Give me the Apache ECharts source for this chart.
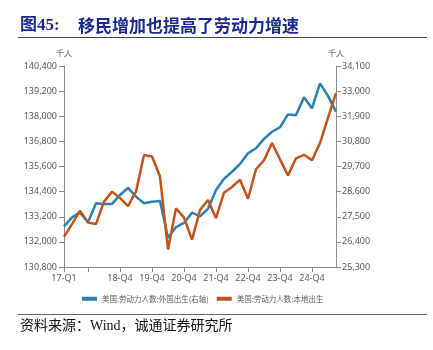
<!DOCTYPE html>
<html>
<head>
<meta charset="utf-8">
<script src="https://cdn.jsdelivr.net/npm/echarts@6/dist/echarts.min.js"></script>
<style>
html,body{margin:0;padding:0;background:#fff;}
#c{width:433px;height:350px;}
</style>
</head>
<body>
<div id="c"></div>
<script>
const categories = ['17-Q1','17-Q2','17-Q3','17-Q4','18-Q1','18-Q2','18-Q3','18-Q4','19-Q1','19-Q2','19-Q3','19-Q4','20-Q1','20-Q2','20-Q3','20-Q4','21-Q1','21-Q2','21-Q3','21-Q4','22-Q1','22-Q2','22-Q3','22-Q4','23-Q1','23-Q2','23-Q3','23-Q4','24-Q1','24-Q2','24-Q3','24-Q4','25-Q1','25-Q2','25-Q3'];
const foreignBorn = [27080,27470,27680,27260,28090,28060,28060,28450,28760,28380,28090,28160,28190,26580,27050,27230,27680,27520,27850,28670,29160,29470,29810,30280,30500,30910,31220,31420,31980,31940,32730,32250,33340,32790,32100];
const nativeBorn = [132250,132850,133490,132920,132850,133920,134400,134100,133710,134400,136150,136080,135120,131640,133600,133160,132110,133520,134000,133130,134350,134620,134970,134060,135470,135900,136720,135940,135170,135990,136160,135900,136720,137920,139110];
const leftTicks = {min:130800, max:140400, interval:1200};
const rightTicks = {min:25300, max:34100, interval:1100};
const seriesNames = ['美国:劳动力人数:外国出生(右轴)','美国:劳动力人数:本地出生'];
const unitLabel = '千人';
const titleNo = '图45:';
const titleText = '移民增加也提高了劳动力增速';
const sourceText = '资料来源：Wind，诚通证券研究所';

const fmt = v => v.toLocaleString('en-US');
const axisColor = '#8c8c8c';
const labelColor = '#595959';
const showIdx = i => i === 0 || ((i - 3) % 4 === 0);
const showLabel = i => i === 0 || (i >= 7 && (i - 3) % 4 === 0);

const chart = echarts.init(document.getElementById('c'), null, {renderer:'canvas'});
chart.setOption({
  animation:false,
  grid:{left:64, right:97, top:66, bottom:83, containLabel:false},
  graphic:[
    {type:'text', left:20, top:17, style:{text:titleNo, fill:'#1b2a8a', font:'bold 17px "Liberation Serif","Noto Sans CJK SC"'}},
    {type:'text', left:78, top:17, style:{text:titleText, fill:'#1b2a8a', font:'bold 17px "Noto Sans CJK SC"'}},
    {type:'line', shape:{x1:18,y1:37.5,x2:427,y2:37.5}, style:{stroke:'#444', lineWidth:1}},
    {type:'line', shape:{x1:18,y1:314.5,x2:427,y2:314.5}, style:{stroke:'#666', lineWidth:1}},
    {type:'text', left:20, top:319, style:{text:sourceText, fill:'#111', font:'14px "Liberation Serif","Noto Sans CJK SC"'}}
  ],
  legend:{
    left:77, top:290, itemWidth:15, itemHeight:4, icon:'rect', itemGap:8,
    textStyle:{fontSize:7.5, color:labelColor, fontFamily:'"Noto Sans CJK SC"'},
    data:seriesNames
  },
  xAxis:{
    type:'category', data:categories, boundaryGap:false,
    axisLine:{lineStyle:{color:axisColor, width:1}},
    axisTick:{show:true, interval:(i)=>showIdx(i), length:5, lineStyle:{color:axisColor}},
    axisLabel:{interval:(i)=>showLabel(i), color:labelColor, fontSize:9, margin:7, fontFamily:'"Noto Sans"'},
    splitLine:{show:false}
  },
  yAxis:[
    {type:'value', position:'left', min:leftTicks.min, max:leftTicks.max, interval:leftTicks.interval,
     name:unitLabel, nameLocation:'end', nameGap:8, nameTextStyle:{color:labelColor, fontSize:8, align:'center'},
     axisLine:{show:true, lineStyle:{color:axisColor}},
     axisTick:{show:true, length:5, lineStyle:{color:axisColor}},
     axisLabel:{formatter:fmt, color:labelColor, fontSize:9, margin:7, fontFamily:'"Noto Sans"'},
     splitLine:{show:false}},
    {type:'value', position:'right', min:rightTicks.min, max:rightTicks.max, interval:rightTicks.interval,
     name:unitLabel, nameLocation:'end', nameGap:8, nameTextStyle:{color:labelColor, fontSize:8, align:'center'},
     axisLine:{show:true, lineStyle:{color:axisColor}},
     axisTick:{show:true, length:5, lineStyle:{color:axisColor}},
     axisLabel:{formatter:fmt, color:labelColor, fontSize:9, margin:6, fontFamily:'"Noto Sans"'},
     splitLine:{show:false}}
  ],
  series:[
    {name:seriesNames[0], type:'line', yAxisIndex:1, data:foreignBorn, symbol:'none',
     lineStyle:{color:'#2a80b0', width:2.5}, itemStyle:{color:'#2a80b0'}},
    {name:seriesNames[1], type:'line', yAxisIndex:0, data:nativeBorn, symbol:'none',
     lineStyle:{color:'#c4521b', width:2.5}, itemStyle:{color:'#c4521b'}}
  ]
});
</script>
</body>
</html>
